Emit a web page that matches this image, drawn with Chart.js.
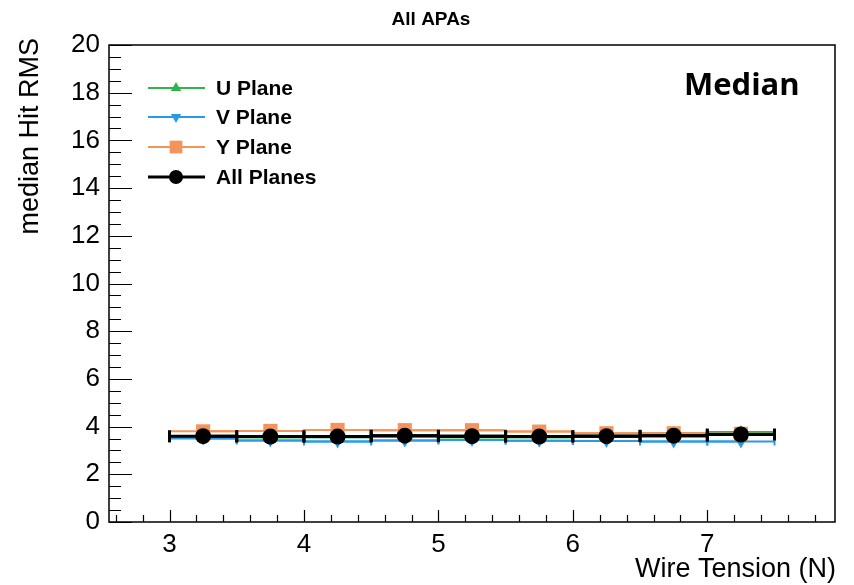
<!DOCTYPE html>
<html>
<head>
<meta charset="utf-8">
<script src="https://cdn.jsdelivr.net/npm/chart.js@4/dist/chart.umd.min.js"></script>
<style>
  html, body { margin: 0; background: #fff; }
</style>
</head>
<body>
<canvas id="chart" width="854" height="585"></canvas>
<script>
// bins of the wire tension histogram (N)
const binCenters = [3.25, 3.75, 4.25, 4.75, 5.25, 5.75, 6.25, 6.75, 7.25];
const binHalfWidth = 0.25;

// median hit RMS per plane
const uPlane = [3.58, 3.55, 3.55, 3.60, 3.55, 3.55, 3.62, 3.72, 3.77];
const vPlane = [3.50, 3.42, 3.38, 3.42, 3.44, 3.41, 3.40, 3.38, 3.38];
const yPlane = [3.80, 3.82, 3.86, 3.85, 3.85, 3.79, 3.72, 3.72, 3.70];
const allPlanes = [3.60, 3.58, 3.58, 3.62, 3.60, 3.58, 3.60, 3.62, 3.67];

const xTickValues = [3, 4, 5, 6, 7];
const yTickValues = [0, 2, 4, 6, 8, 10, 12, 14, 16, 18, 20];

const FONT = '"Liberation Sans", Arial, Helvetica, sans-serif';

function points(vals) {
  return vals.map((v, i) => ({x: binCenters[i], y: v}));
}

const datasets = [
  {label: 'U Plane', data: points(uPlane), borderColor: '#2fb54a', backgroundColor: '#2fb54a',
   borderWidth: 2, pointStyle: 'triangle', pointRadius: 7, rotation: 0, capSize: 0, order: 3},
  {label: 'V Plane', data: points(vPlane), borderColor: '#2a9ae8', backgroundColor: '#2a9ae8',
   borderWidth: 2, pointStyle: 'triangle', pointRadius: 7, rotation: 180, capSize: 4, order: 2},
  {label: 'Y Plane', data: points(yPlane), borderColor: '#f3955a', backgroundColor: '#f3955a',
   borderWidth: 2, pointStyle: 'rect', pointRadius: 10, rotation: 0, capSize: 0, order: 1},
  {label: 'All Planes', data: points(allPlanes), borderColor: '#000', backgroundColor: '#000',
   borderWidth: 3, pointStyle: 'circle', pointRadius: 8, rotation: 0, capSize: 6, order: 0},
];
datasets.forEach(d => {
  d.showLine = true;
  d.stepped = 'middle';
  d.pointBorderWidth = 0;
  d.pointRotation = d.rotation;
});

// horizontal bin-width bars, ROOT style frame, inward ticks, labels, legend
const rootStyle = {
  id: 'rootStyle',
  beforeDatasetDraw(chart, args) {
    const ds = chart.data.datasets[args.index];
    const {ctx, scales: {x, y}} = chart;
    ctx.save();
    ctx.strokeStyle = ds.borderColor;
    ctx.lineWidth = ds.borderWidth;
    ds.data.forEach(p => {
      const x0 = x.getPixelForValue(p.x - binHalfWidth);
      const x1 = x.getPixelForValue(p.x + binHalfWidth);
      const py = y.getPixelForValue(p.y);
      ctx.beginPath();
      ctx.moveTo(x0, py);
      ctx.lineTo(x1, py);
      if (ds.capSize) {
        ctx.moveTo(x0, py - ds.capSize); ctx.lineTo(x0, py + ds.capSize);
        ctx.moveTo(x1, py - ds.capSize); ctx.lineTo(x1, py + ds.capSize);
      }
      ctx.stroke();
    });
    ctx.restore();
  },
  afterDraw(chart) {
    const {ctx, chartArea: a, scales: {x, y}} = chart;
    ctx.save();
    ctx.strokeStyle = '#000';
    ctx.lineWidth = 1.5;
    ctx.strokeRect(a.left, a.top, a.right - a.left, a.bottom - a.top);

    ctx.lineWidth = 1.2;
    ctx.beginPath();
    // y ticks
    for (let v = 0; v <= 20.001; v += 0.5) {
      const py = Math.round(y.getPixelForValue(v)) + 0.5;
      const len = Math.abs(v % 2) < 0.01 ? 23 : 12;
      ctx.moveTo(a.left, py); ctx.lineTo(a.left + len, py);
    }
    // x ticks
    for (let v = 2.6; v < x.max; v += 0.2) {
      const px = Math.round(x.getPixelForValue(v)) + 0.5;
      const len = Math.abs(v - Math.round(v)) < 0.01 ? 12 : 7;
      ctx.moveTo(px, a.bottom); ctx.lineTo(px, a.bottom - len);
    }
    ctx.stroke();

    // title
    ctx.fillStyle = '#000';
    ctx.font = 'bold 19px ' + FONT;
    ctx.textAlign = 'center';
    ctx.textBaseline = 'middle';
    ctx.fillText('All APAs', 431, 20);

    // axis titles
    ctx.font = '27px ' + FONT;
    ctx.textAlign = 'right';
    ctx.fillText('Wire Tension (N)', 836, 570);
    ctx.save();
    ctx.translate(31, 38);
    ctx.rotate(-Math.PI / 2);
    ctx.textAlign = 'right';
    ctx.fillText('median Hit RMS', 0, 0);
    ctx.restore();

    // "Median" tag
    ctx.font = 'bold 31px "Open Sans", ' + FONT;
    ctx.textAlign = 'left';
    ctx.fillText('Median', 684, 86);

    // legend
    const rows = [88, 117, 147, 177];
    ctx.font = 'bold 21px ' + FONT;
    chart.data.datasets.forEach((ds, i) => {
      const ly = rows[i];
      ctx.strokeStyle = ds.borderColor;
      ctx.lineWidth = ds.borderWidth;
      ctx.beginPath();
      ctx.moveTo(148, ly); ctx.lineTo(205, ly);
      ctx.stroke();
      ctx.fillStyle = ds.backgroundColor;
      Chart.helpers.drawPoint(ctx, {pointStyle: ds.pointStyle, radius: ds.pointRadius - 1,
        rotation: ds.rotation, borderWidth: 0}, 176, ly);
      ctx.fillStyle = '#000';
      ctx.textAlign = 'left';
      ctx.fillText(ds.label, 216, ly + 1);
    });
    ctx.restore();
  }
};

new Chart(document.getElementById('chart'), {
  type: 'scatter',
  data: {datasets},
  options: {
    responsive: false,
    animation: false,
    layout: {padding: {top: 45, right: 19, left: 0, bottom: 0}},
    plugins: {legend: {display: false}, tooltip: {enabled: false}},
    scales: {
      x: {
        type: 'linear', min: 2.55, max: 7.95,
        afterBuildTicks: s => { s.ticks = xTickValues.map(v => ({value: v})); },
        afterFit: s => { s.height = 63; },
        grid: {display: true, drawOnChartArea: false, drawTicks: false},
        border: {display: false},
        ticks: {padding: 7, color: '#000', font: {family: FONT, size: 26}},
      },
      y: {
        type: 'linear', min: 0, max: 20,
        afterBuildTicks: s => { s.ticks = yTickValues.map(v => ({value: v})); },
        afterFit: s => { s.width = 109; },
        grid: {display: true, drawOnChartArea: false, drawTicks: false},
        border: {display: false},
        ticks: {padding: 9, color: '#000', font: {family: FONT, size: 26}},
      },
    },
  },
  plugins: [rootStyle],
});
</script>
</body>
</html>
